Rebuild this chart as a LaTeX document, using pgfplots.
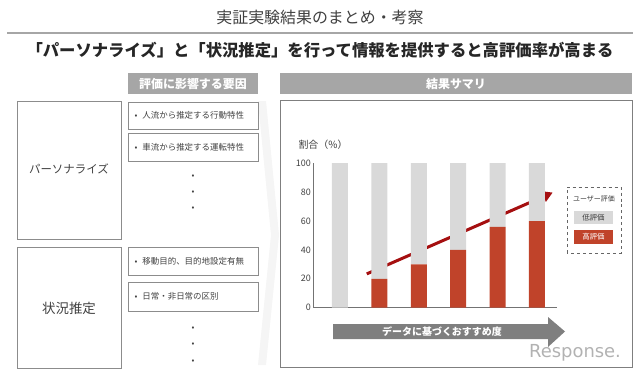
\documentclass[border=0pt]{standalone}
\usepackage{fontspec}
\setmainfont{Noto Sans CJK JP}
\newfontfamily\latinfont{DejaVu Sans}
\usepackage{pgfplots}
\pgfplotsset{compat=1.18}
\usetikzlibrary{arrows.meta}
\definecolor{hired}{HTML}{C0432A}
\definecolor{logray}{HTML}{D9D9D9}
\definecolor{trendred}{HTML}{A50F10}
\definecolor{hdrgray}{HTML}{A6A6A6}
\definecolor{boxgray}{HTML}{8C8C8C}
\definecolor{txtgray}{HTML}{404040}
\definecolor{arrgray}{HTML}{7F7F7F}
\newcommand{\fs}[1]{\fontsize{#1}{#1}\selectfont}
\begin{document}
\begin{tikzpicture}[x=1bp,y=1bp]
\useasboundingbox (0,0) rectangle (640,373);
% titles
\node[text=txtgray] at (320,356) {\fs{16}実証実験結果のまとめ・考察};
\draw[hdrgray, line width=2bp] (7,340) -- (633,340);
\node[text=black!85] at (320,323) {\fs{16.4}\bfseries 「パーソナライズ」と「状況推定」を行って情報を提供すると高評価率が高まる};
% faint chevron
\fill[black!4] (258,272) -- (266,272) -- (279,138) -- (266,8) -- (258,8) -- (271,138) -- cycle;
% left header
\fill[hdrgray] (128,278.7) rectangle (258,300);
\node[text=white] at (193,289.3) {\fs{12}\bfseries 評価に影響する要因};
% left big boxes
\draw[boxgray, line width=0.8bp] (17,134) rectangle (121,272);
\node[text=txtgray] at (69,204) {\fs{11.5}パーソナライズ};
\draw[boxgray, line width=0.8bp] (17,5) rectangle (121,126);
\node[text=txtgray] at (69,65) {\fs{13.5}状況推定};
% small boxes
\draw[boxgray, line width=0.6bp] (128,244) rectangle (258,271);
\node[anchor=west, text=txtgray] at (131,257.5) {\fs{8.5}•\hspace{5bp}人流から推定する行動特性};
\draw[boxgray, line width=0.6bp] (128,212) rectangle (258,240);
\node[anchor=west, text=txtgray] at (131,226) {\fs{8.5}•\hspace{5bp}車流から推定する運転特性};
\node[text=txtgray] at (193,196) {\fs{8.5}•};
\node[text=txtgray] at (193,180) {\fs{8.5}•};
\node[text=txtgray] at (193,164) {\fs{8.5}•};
\draw[boxgray, line width=0.6bp] (128,98) rectangle (258,126);
\node[anchor=west, text=txtgray] at (131,112) {\fs{8.5}•\hspace{5bp}移動目的、目的地設定有無};
\draw[boxgray, line width=0.6bp] (128,62) rectangle (258,91);
\node[anchor=west, text=txtgray] at (131,76.5) {\fs{8.5}•\hspace{5bp}日常・非日常の区別};
\node[text=txtgray] at (193,44) {\fs{8.5}•};
\node[text=txtgray] at (193,28) {\fs{8.5}•};
\node[text=txtgray] at (193,11) {\fs{8.5}•};
% right header & frame
\fill[hdrgray] (280,278.7) rectangle (632,300);
\node[text=white] at (456,289.3) {\fs{12}\bfseries 結果サマリ};
\draw[arrgray, line width=0.9bp] (280,6) rectangle (632,272.3);
% y label
\node[anchor=west, text=txtgray] at (295,228) {\fs{10}割合（\%）};
% chart
\begin{axis}[
  at={(313bp,65.3bp)}, anchor=south west,
  scale only axis, width=244bp, height=144.5bp,
  xmin=-0.685, xmax=5.51, ymin=0, ymax=100,
  axis x line*=bottom, axis y line*=left,
  axis line style={black!55, line width=0.7bp},
  xtick=\empty, ytick={0,20,40,60,80,100},
  major tick length=0pt,
  /pgf/number format/assume math mode=true,
  yticklabel style={font=\fs{9}, text=txtgray, inner sep=2bp},
  ybar stacked, bar width=16bp,
  clip=false,
]
\addplot[fill=hired, draw=none] coordinates {(0,0) (1,20) (2,30) (3,40) (4,56) (5,60)};
\addplot[fill=logray, draw=none] coordinates {(0,100) (1,80) (2,70) (3,60) (4,44) (5,40)};
\draw[trendred, line width=3bp, -{Triangle[length=10bp,width=11bp]}] (axis cs:0.68,23.4) -- (axis cs:5.4,79.7);
\end{axis}
% legend
\draw[black!60, dashed, line width=0.6bp] (567,120) rectangle (621,186);
\node[text=txtgray] at (594,174) {\fs{7}ユーザー評価};
\fill[logray] (574,149) rectangle (613,162);
\node[text=txtgray] at (593.5,155.5) {\fs{7.5}低評価};
\fill[hired] (574,129) rectangle (613,143);
\node[text=white] at (593.5,136) {\fs{7.5}高評価};
% bottom arrow
\fill[arrgray] (333,49) -- (548,49) -- (548,56) -- (565,41.5) -- (548,26) -- (548,34) -- (333,34) -- cycle;
\node[text=white] at (442,41.5) {\fs{10}\bfseries データに基づくおすすめ度};
% watermark
\node[text=black!30] at (575,20) {\latinfont\fs{18}Response.};
\end{tikzpicture}
\end{document}
